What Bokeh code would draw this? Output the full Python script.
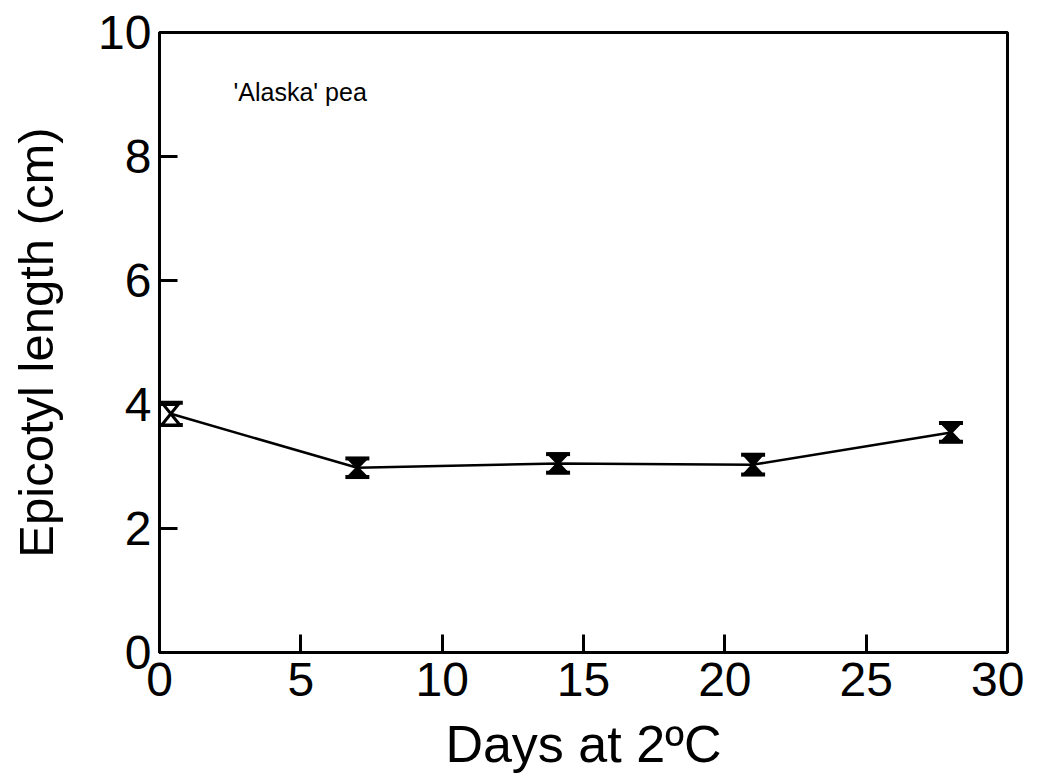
from bokeh.plotting import figure
from bokeh.models import ColumnDataSource, Whisker, TeeHead, Label, Range1d, FixedTicker
from bokeh.embed import file_html
from bokeh.resources import INLINE

days = [0.4, 7.0, 14.1, 21.0, 28.0]
length_cm = [3.85, 2.98, 3.05, 3.03, 3.55]
err = [0.18, 0.15, 0.15, 0.16, 0.15]
x_ticks = [0, 5, 10, 15, 20, 25, 30]
y_ticks = [0, 2, 4, 6, 8, 10]

FONT = "Liberation Sans"

p = figure(width=1024, height=775, output_backend="svg", toolbar_location=None,
           x_range=Range1d(0, 30), y_range=Range1d(0, 10),
           min_border_left=159, min_border_right=17, min_border_top=32, min_border_bottom=123)
p.grid.visible = False
p.outline_line_color = "black"
p.outline_line_width = 3
p.background_fill_color = "white"
p.border_fill_color = "white"

for ax in (p.xaxis[0], p.yaxis[0]):
    ax.axis_line_width = 3
    ax.major_tick_line_width = 3
    ax.major_tick_in = 18
    ax.major_tick_out = 0
    ax.minor_tick_line_color = None
    ax.major_label_text_font = FONT
    ax.major_label_text_font_size = "48px"
    ax.major_label_text_color = "black"
    ax.axis_label_text_font = FONT
    ax.axis_label_text_font_style = "normal"
    ax.axis_label_text_color = "black"

p.xaxis.axis_label_text_font_size = "52px"
p.yaxis.axis_label_text_font_size = "49px"
p.xaxis.ticker = FixedTicker(ticks=x_ticks)
p.yaxis.ticker = FixedTicker(ticks=y_ticks)
p.xaxis.major_label_standoff = 10
p.yaxis.major_label_standoff = 8
p.xaxis.axis_label = "Days at 2\u00baC"
p.yaxis.axis_label = "Epicotyl length (cm)"
p.xaxis.axis_label_standoff = 16
p.yaxis.axis_label_standoff = 32

upper = [v + e for v, e in zip(length_cm, err)]
lower = [v - e for v, e in zip(length_cm, err)]
src = ColumnDataSource(dict(x=days, y=length_cm, upper=upper, lower=lower))

p.line("x", "y", source=src, line_color="black", line_width=2.5)

# hourglass marks built from the data
w = 0.32
xs, ys = [], []
for xv, yv, e in zip(days, length_cm, err):
    xs.append([xv - w, xv + w, xv, xv + w, xv - w, xv])
    ys.append([yv + e, yv + e, yv, yv - e, yv - e, yv])
fills = ["white"] + ["black"] * (len(days) - 1)
p.patches(xs, ys, fill_color=fills, line_color="black", line_width=3)

wh = Whisker(source=src, base="x", upper="upper", lower="lower", dimension="height",
             line_color="black", line_width=3,
             upper_head=TeeHead(size=24, line_width=4, line_color="black"),
             lower_head=TeeHead(size=24, line_width=4, line_color="black"))
p.add_layout(wh)

p.add_layout(Label(x=2.62, y=8.82, text="'Alaska' pea", text_font=FONT,
                   text_font_size="25px", text_color="black"))

open("out.html", "w").write(file_html(p, INLINE))
